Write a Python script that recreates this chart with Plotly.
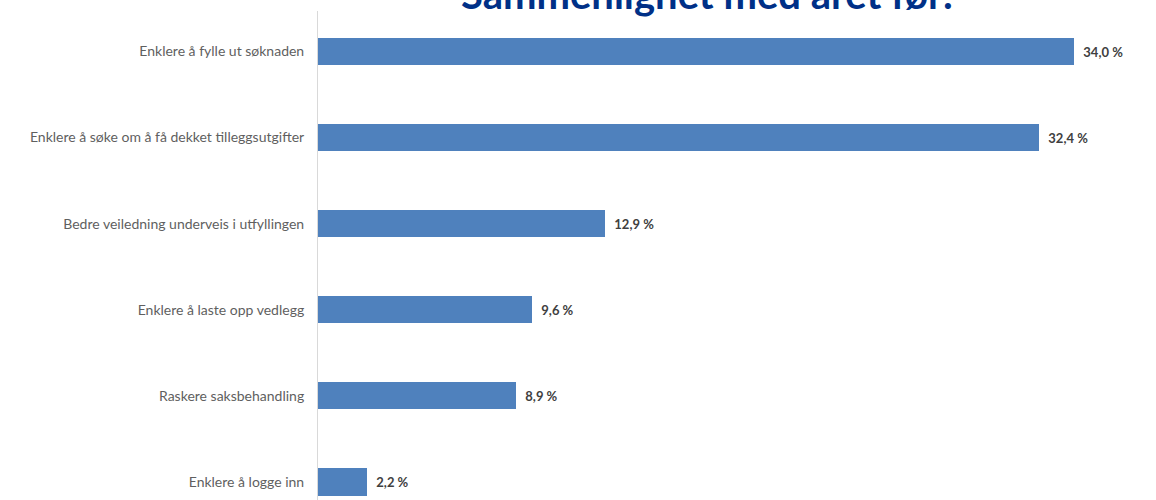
import plotly.graph_objects as go

# Survey answers and share of respondents (%)
categories = [
    "Enklere å fylle ut søknaden",
    "Enklere å søke om å få dekket tilleggsutgifter",
    "Bedre veiledning underveis i utfyllingen",
    "Enklere å laste opp vedlegg",
    "Raskere saksbehandling",
    "Enklere å logge inn",
]
shares = [34.0, 32.4, 12.9, 9.6, 8.9, 2.2]
title_text = "Sammenlignet med året før:"

W, H = 1156, 500
LEFT, RIGHT, TOP, BOTTOM = 318, 10, 11, 0
px_per_unit = 22.24

fig = go.Figure(
    go.Bar(
        x=shares,
        y=categories,
        orientation="h",
        width=0.314,
        marker=dict(color="#4F81BD", line=dict(width=0)),
        texttemplate="\u00a0\u00a0%{x:.1f} %",
        textposition="outside",
        cliponaxis=False,
        textfont=dict(family="Lato", size=13, color="#404040", weight="bold"),
        hoverinfo="skip",
    )
)

fig.update_layout(
    width=W,
    height=H,
    separators=", ",
    margin=dict(l=LEFT, r=RIGHT, t=TOP, b=BOTTOM, pad=0),
    plot_bgcolor="white",
    paper_bgcolor="white",
    showlegend=False,
    bargap=0,
    xaxis=dict(
        range=[0, (W - LEFT - RIGHT) / px_per_unit],
        visible=False,
    ),
    yaxis=dict(
        type="category",
        categoryorder="array",
        categoryarray=categories,
        range=[5.209, -0.470],
        showline=True,
        linecolor="#d9d9d9",
        linewidth=1,
        showgrid=False,
        zeroline=False,
        ticks="",
        ticklabelstandoff=10,
        tickfont=dict(family="Lato", size=14, color="#5f5f5f"),
    ),
    annotations=[
        dict(
            text="<b>" + title_text + "</b>",
            xref="paper",
            yref="paper",
            x=(707 - LEFT) / (W - LEFT - RIGHT),
            y=(H - 20) / (H - TOP - BOTTOM),
            xanchor="center",
            yanchor="bottom",
            showarrow=False,
            font=dict(family="Lato", size=40, color="#003087"),
        )
    ],
)

fig.write_html("out.html")
